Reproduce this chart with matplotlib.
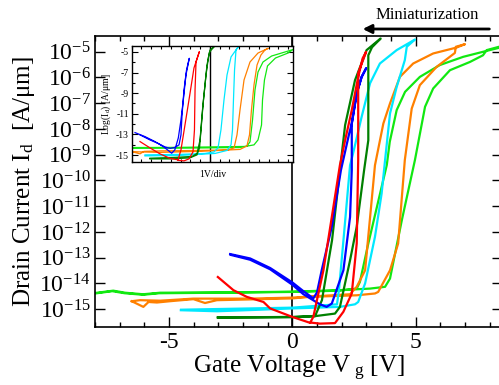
import numpy as np
import matplotlib
matplotlib.use("Agg")
import matplotlib.pyplot as plt
from matplotlib.ticker import FixedLocator, MultipleLocator, FuncFormatter, NullLocator

plt.rcParams['font.family'] = 'Liberation Serif'
plt.rcParams['mathtext.fontset'] = 'custom'
plt.rcParams['mathtext.rm'] = 'Liberation Serif'
plt.rcParams['mathtext.it'] = 'Liberation Serif:italic'
plt.rcParams['axes.unicode_minus'] = False

# --- main plot: gate voltage [V] and log10(Id [A/um]), sweep out and back ---
vg_lime = [-7.99, -7.26, -6.78, -6.05, -5.36, -2.93, 0.0, 1.93, 3.15, 3.76, 3.96, 4.44, 4.97, 5.38, 5.71,
           6.39, 7.20, 7.73, 7.88, 8.38, 8.6,
           8.0, 6.93, 5.98, 5.17, 4.57, 4.23, 3.95, 3.83, 3.08, 2.74, 2.61, 1.9, 0.0, -2.9, -5.4,
           -6.05, -6.8, -7.3, -8.0]
li_lime = [-14.37, -14.28, -14.36, -14.42, -14.36, -14.35, -14.32, -14.26, -14.20, -14.13, -13.81, -11.54,
           -9.21, -7.14, -6.43, -5.72, -5.40, -5.14, -4.94, -4.81, -4.80,
           -4.94, -5.20, -5.52, -5.98, -6.56, -7.27, -8.5, -9.4, -12.45, -13.94, -14.20, -14.28, -14.33,
           -14.36, -14.38, -14.44, -14.38, -14.30, -14.39]

vg_orange = [-6.51, -6.04, -5.83, -5.49, -4.96, -4.01, -3.54, -3.06, -1.71, 0.0, 0.72, 2.61, 3.35, 3.48,
             3.96, 4.29, 4.56, 4.84, 5.17, 5.85, 6.59, 6.63, 7.00,
             6.66, 5.71, 4.90, 4.36, 3.96, 3.69, 3.35, 2.95, 2.61, 2.34, 0.0, -1.71, -4.02, -5.36,
             -6.17, -6.51]
li_orange = [-14.69, -14.91, -14.72, -14.74, -14.69, -14.61, -14.76, -14.65, -14.62, -14.58, -14.52,
             -14.46, -14.39, -14.33, -13.49, -12.45, -9.21, -7.21, -6.30, -5.59, -5.05, -4.81, -4.71,
             -4.84, -5.07, -5.46, -5.98, -7.01, -7.79, -9.41, -13.49, -14.13, -14.42, -14.55, -14.59,
             -14.59, -14.67, -14.65, -14.69]

vg_cyan = [-4.52, -3.06, -1.31, 0.0, 1.93, 2.54, 2.67, 2.95, 3.35, 3.62, 3.76, 3.96, 4.23, 4.56, 4.64, 4.97,
           4.23, 3.55, 3.15, 2.81, 2.45, 2.34, 2.09, 1.89, 1.81, 0.0, -4.51]
li_cyan = [-15.04, -15.08, -15.02, -14.97, -14.91, -14.81, -14.72, -14.00, -12.19, -10.51, -9.21, -7.40,
           -6.37, -5.33, -4.81, -4.53,
           -4.94, -5.46, -6.23, -7.53, -9.0, -9.41, -12.13, -14.26, -14.81, -14.94, -15.02]

vg_dgreen = [-3.02, -1.5, 0.0, 0.92, 1.73, 1.93, 2.34, 2.61, 2.91, 3.08, 3.08, 3.23, 3.58,
             3.01, 2.54, 2.14, 1.93, 1.61, 1.20, 0.92, 0.0, -3.02]
li_dgreen = [-15.31, -15.31, -15.30, -15.27, -15.17, -14.91, -13.10, -11.80, -9.60, -8.44, -5.14, -4.83,
             -4.49, -4.94, -6.11, -7.85, -9.60, -12.32, -14.65, -15.27, -15.31, -15.33]

vg_blue = [-2.52, -1.71, -0.90, 0.0, 0.45, 0.85, 1.0, 1.19, 1.60, 1.97, 2.30, 2.41, 2.61, 2.81, 2.99,
           2.81, 2.61, 2.41, 2.41, 2.34, 2.07, 1.60, 1.39, 1.10, 0.45, 0.0, -0.90, -1.71, -2.50]
li_blue = [-12.86, -13.03, -13.40, -13.96, -14.30, -14.58, -14.35, -13.49, -11.80, -9.60, -8.20, -7.79,
           -6.62, -5.98, -5.65,
           -5.98, -6.62, -7.79, -9.60, -11.42, -13.49, -14.78, -14.91, -14.80, -14.42, -14.05, -13.45,
           -13.08, -12.89]

vg_red = [-3.02, -2.39, -2.12, -1.85, -1.17, -0.90, 0.0, 0.72, 0.85, 1.26, 1.60, 1.93, 2.14, 2.41, 2.67,
          2.85, 2.99,
          2.67, 2.67, 2.61, 2.41, 2.07, 1.73, 1.12, 0.75]
li_red = [-13.75, -14.26, -14.39, -14.52, -14.72, -14.97, -15.30, -15.53, -15.30, -13.49, -11.42, -9.40,
          -8.44, -7.27, -5.98, -5.26, -5.01,
          -5.83, -9.21, -12.45, -14.39, -15.10, -15.54, -15.56, -15.52]

# --- inset: same devices family, log10(Id) on a linear axis ---
in_vg_lime = [-8.0, -3.06, 3.76, 4.10, 4.36, 4.61, 4.92, 5.43, 6.31, 7.68, 8.50,
              7.99, 6.71, 5.89, 5.58, 5.38, 5.28, 4.92, 4.51, 2.97, -3.06, -8.0]
in_li_lime = [-14.27, -14.25, -14.16, -13.72, -11.59, -8.69, -6.95, -5.98, -5.40, -5.01, -4.77,
              -5.11, -5.59, -6.36, -7.72, -9.66, -12.08, -13.53, -14.01, -14.27, -14.33, -14.33]

in_vg_orange = [-8.0, -7.15, -6.74, -5.11, -1.01, 1.85, 2.47, 2.77, 3.08, 3.49, 4.10, 4.92, 5.97,
                5.63, 5.22, 4.82, 4.51, 4.25, 4.05, 3.79, 3.08, -1.01, -5.11, -7.15, -8.0]
in_li_orange = [-14.66, -14.88, -14.64, -14.59, -14.55, -14.50, -14.30, -13.04, -10.62, -7.72, -5.98,
                -5.11, -4.65,
                -4.82, -5.30, -6.27, -8.20, -10.62, -13.04, -14.11, -14.45, -14.64, -14.74, -14.69, -14.66]

in_vg_cyan = [-6.64, -3.06, -0.50, 0.42, 0.83, 1.13, 1.44, 1.75, 2.16, 2.92,
              2.67, 2.52, 2.41, 2.31, 2.16, 1.75, 0.52, -3.06, -6.64]
in_li_cyan = [-14.98, -14.93, -14.84, -14.69, -14.30, -12.56, -9.66, -7.24, -5.49, -4.48,
              -4.82, -6.75, -9.66, -12.56, -14.01, -14.55, -14.84, -15.03, -15.08]

in_vg_dgreen = [-6.13, -3.57, -1.83, -1.32, -1.01, -0.76, -0.50, -0.30, -0.04, 0.50,
                0.01, -0.14, -0.40, -0.66, -0.91, -1.06, -1.32, -2.04, -4.08, -6.13]
in_li_dgreen = [-15.30, -15.22, -15.13, -14.84, -13.53, -10.62, -8.20, -6.27, -5.01, -4.43,
                -4.82, -5.49, -7.24, -9.66, -12.56, -14.30, -14.98, -15.27, -15.37, -15.37]

in_vg_red = [-7.15, -6.13, -5.11, -4.08, -3.26, -2.96, -2.55, -2.06, -1.63, -1.08,
             -1.42, -1.52, -1.58, -1.73, -2.14, -2.65, -3.26]
in_li_red = [-13.69, -14.30, -14.88, -15.32, -15.46, -14.50, -12.08, -9.17, -6.56, -4.98,
             -5.98, -8.69, -12.56, -14.69, -15.37, -15.56, -15.51]

in_vg_blue = [-7.66, -6.64, -5.62, -4.77, -4.26, -3.91, -3.59, -3.23, -2.96, -2.72, -2.45, -2.11,
              -2.39, -2.65, -2.85, -2.96, -3.16, -3.57, -4.06, -4.59, -5.30, -6.13, -7.15]
in_li_blue = [-12.82, -13.21, -13.69, -14.18, -14.55, -14.82, -14.50, -13.33, -11.59, -9.66, -7.24, -5.62,
              -6.75, -8.69, -11.11, -13.04, -14.01, -14.25, -14.35, -14.21, -13.87, -13.53, -13.04]

decades = np.arange(-15, -4)
inset_ticks = [-5, -7, -9, -11, -13, -15]

c_lime, c_orange, c_cyan = '#11e811', '#ff8000', '#00e8ff'
c_dgreen, c_blue, c_red = '#008000', '#0000ff', '#ff0000'

fig = plt.figure(figsize=(4.99, 3.85), dpi=100)
ax = fig.add_axes([0.1904, 0.1514, 0.8156, 0.7559])

curves = [(vg_lime, li_lime, c_lime), (vg_orange, li_orange, c_orange), (vg_cyan, li_cyan, c_cyan),
          (vg_dgreen, li_dgreen, c_dgreen), (vg_blue, li_blue, c_blue), (vg_red, li_red, c_red)]
for v, l, c in curves:
    ax.plot(v, 10.0 ** np.array(l), color=c, lw=1.6, solid_joinstyle='round')

ax.axvline(0, color='k', lw=1.2, zorder=1)
ax.set_yscale('log')
ax.set_xlim(-8, 8.5)
ax.set_ylim(10 ** -15.68, 10 ** -4.38)
ax.yaxis.set_major_locator(FixedLocator(10.0 ** decades))
ax.yaxis.set_minor_locator(NullLocator())
ax.yaxis.set_major_formatter(FuncFormatter(lambda v, p: r'$\mathregular{10^{%d}}$' % round(np.log10(v))))
ax.xaxis.set_major_locator(FixedLocator([-5, 0, 5]))
ax.xaxis.set_minor_locator(MultipleLocator(1))
ax.tick_params(which='both', direction='in', top=True, right=True, labelsize=17, width=1)
ax.tick_params(which='major', length=7)
ax.tick_params(which='minor', length=3.5)
ax.tick_params(axis='y', pad=3)
for s in ax.spines.values():
    s.set_linewidth(1.2)

ax.set_xlabel(r'Gate Voltage V$_\mathregular{\ g}$ [V]', fontsize=18, labelpad=1)
ax.set_ylabel(r'Drain Current I$_\mathregular{d}$  [A/μm]', fontsize=18, labelpad=2)

ax.annotate('', xy=(2.74, 1.023), xytext=(8.1, 1.023), xycoords=('data', 'axes fraction'),
            arrowprops=dict(arrowstyle='-|>', color='k', lw=2, mutation_scale=13), annotation_clip=False)
ax.text(5.46, 1.071, 'Miniaturization', transform=ax.get_xaxis_transform(), ha='center', va='center',
        fontsize=12)

# --- inset ---
ins = fig.add_axes([0.2639, 0.5784, 0.3233, 0.3029])
inset_curves = [(in_vg_lime, in_li_lime, c_lime), (in_vg_orange, in_li_orange, c_orange),
                (in_vg_cyan, in_li_cyan, c_cyan), (in_vg_dgreen, in_li_dgreen, c_dgreen),
                (in_vg_blue, in_li_blue, c_blue), (in_vg_red, in_li_red, c_red)]
for v, l, c in inset_curves:
    ins.plot(v, l, color=c, lw=0.9)
ins.axvline(0, color='k', lw=1.0, zorder=1)
ins.set_xlim(-8, 8.5)
ins.set_ylim(-15.7, -4.4)
ins.yaxis.set_major_locator(FixedLocator(inset_ticks))
ins.yaxis.set_minor_locator(MultipleLocator(1))
ins.xaxis.set_major_locator(FixedLocator([0]))
ins.xaxis.set_minor_locator(MultipleLocator(1))
ins.set_xticklabels([])
ins.tick_params(which='both', direction='in', top=True, right=True, labelsize=7, width=0.8)
ins.tick_params(which='major', length=4, pad=2)
ins.tick_params(which='minor', length=2)
for s in ins.spines.values():
    s.set_linewidth(1.0)
ins.set_xlabel('1V/div', fontsize=7, labelpad=2)
ins.set_ylabel(r'Log(I$_\mathregular{d}$) [A/μm]', fontsize=7, labelpad=2)

fig.savefig('out.png', dpi=100)
